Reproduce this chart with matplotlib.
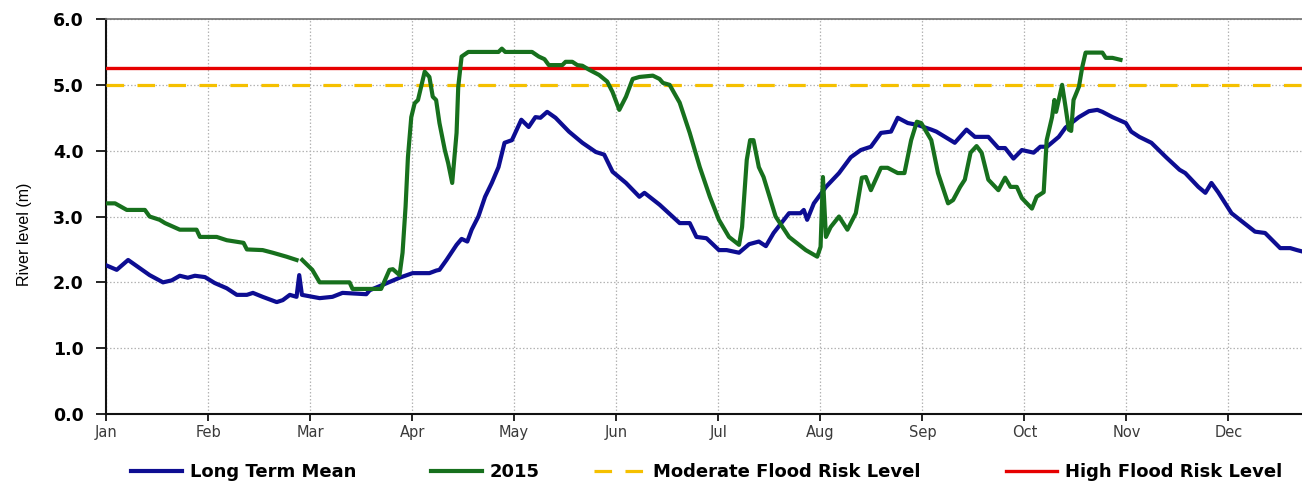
import numpy as np
from matplotlib import pyplot as plt

# day of year (0 = 1 Jan) and river level (m)
mean_days = [0, 3.2, 6.6, 13, 17, 19.6, 22, 24.4, 26.5, 29.5, 32.4, 36, 39, 42, 43.8, 46.7,
             50.9, 52.7, 54.8, 56.8, 57.6, 58.4, 63.7, 67.5, 70.5, 77.6, 78.6, 82.4, 87.5,
             91.4, 96.4, 98.5, 99.4, 101.5, 104.5, 106, 107.7, 109, 111, 113, 115, 117,
             118.8, 121, 123.8, 126, 128, 129.5, 131.5, 134, 138, 142, 146, 148.5, 151,
             155, 159, 160.5, 165, 171, 174, 176, 179, 182.7, 185, 188.7, 191.7, 194.6,
             196.7, 199, 203.6, 207, 208, 209, 211, 214.6, 218.5, 222, 225, 228, 231, 234,
             236, 239, 242, 246, 247.5, 253, 256.5, 259, 263, 266, 268, 270.5, 273, 276.5,
             278.5, 280.5, 284, 286, 290, 293, 295.5, 297, 300, 304, 305.6, 308, 311.6,
             316, 320, 321.7, 325.6, 327.7, 329.5, 331.5, 335.5, 338, 342.5, 345.5, 350,
             353, 355, 358]
mean_level = [2.26, 2.19, 2.34, 2.11, 2.0, 2.03, 2.1, 2.07, 2.1, 2.08, 1.99, 1.91, 1.81, 1.81,
              1.84, 1.78, 1.70, 1.73, 1.81, 1.78, 2.11, 1.81, 1.76, 1.78, 1.84, 1.82, 1.88,
              1.96, 2.07, 2.14, 2.14, 2.18, 2.19, 2.34, 2.57, 2.66, 2.62, 2.8, 3.0, 3.3, 3.51,
              3.75, 4.12, 4.16, 4.47, 4.36, 4.51, 4.50, 4.59, 4.5, 4.29, 4.12, 3.98, 3.94,
              3.68, 3.51, 3.3, 3.36, 3.18, 2.9, 2.9, 2.69, 2.67, 2.49, 2.49, 2.45, 2.58, 2.62,
              2.55, 2.75, 3.05, 3.05, 3.1, 2.95, 3.2, 3.45, 3.66, 3.9, 4.01, 4.06, 4.27, 4.29,
              4.5, 4.42, 4.39, 4.32, 4.29, 4.12, 4.32, 4.21, 4.21, 4.04, 4.04, 3.88, 4.01,
              3.97, 4.06, 4.06, 4.21, 4.35, 4.51, 4.6, 4.62, 4.59, 4.51, 4.42, 4.29, 4.21,
              4.12, 3.9, 3.71, 3.66, 3.45, 3.36, 3.51, 3.37, 3.05, 2.95, 2.77, 2.75, 2.52,
              2.52, 2.49, 2.45]

# 2015 series, with a short gap in the record near the end of February
y2015_days = [0, 2.7, 6.2, 11.6, 13, 16, 17.6, 22, 27, 28, 33, 36, 41, 42, 46.7, 49.7, 53.8,
              56.8, 57.5, 58.5, 59.5, 61.5, 63.7, 72.6, 73.5, 82, 84.5, 85.5, 87.5, 88.4,
              89.3, 90, 91, 92, 93, 95, 96.4, 97.4, 98.4, 99.4, 101, 102, 103.2, 104.5, 105,
              106, 108, 117, 118, 119, 127, 129, 130.7, 132, 136, 137, 139, 140.5, 142, 144,
              147, 149.4, 151, 153, 155, 157, 159, 163, 165, 166, 168, 171, 174, 177, 180,
              182.7, 185.7, 188.7, 189.6, 191, 192, 193, 194.6, 196, 199.6, 203.6, 208.6,
              212, 213, 213.7, 214.6, 216, 218.5, 221, 223.5, 225.3, 226.5, 228, 231, 233,
              236, 238, 240, 241.7, 243, 246, 248, 251, 252.5, 254.6, 256, 257.7, 259.5,
              261, 263, 266, 268, 269.6, 271.5, 273, 274.5, 276, 277.4, 279.5, 280.4, 282,
              282.7, 283.2, 284, 285, 286, 287, 287.7, 288.4, 290, 291, 292, 295.5, 297, 298,
              300, 302.4]
y2015_level = [3.2, 3.2, 3.1, 3.1, 3.0, 2.95, 2.9, 2.8, 2.8, 2.69, 2.69, 2.64, 2.6, 2.5, 2.49,
               2.45, 2.39, 2.34, np.nan, 2.34, 2.29, 2.19, 2.0, 2.0, 1.9, 1.9, 2.19, 2.2, 2.11,
               2.45, 3.15, 3.9, 4.51, 4.72, 4.77, 5.2, 5.12, 4.82, 4.77, 4.42, 4.01, 3.81,
               3.51, 4.27, 4.97, 5.43, 5.5, 5.5, 5.55, 5.5, 5.5, 5.43, 5.39, 5.3, 5.3, 5.35,
               5.35, 5.3, 5.29, 5.23, 5.15, 5.05, 4.89, 4.62, 4.82, 5.09, 5.12, 5.14, 5.09,
               5.03, 5.0, 4.73, 4.27, 3.75, 3.3, 2.95, 2.69, 2.57, 2.84, 3.86, 4.16, 4.16,
               3.75, 3.6, 3.0, 2.69, 2.49, 2.39, 2.54, 3.6, 2.69, 2.84, 3.0, 2.8, 3.05, 3.59,
               3.6, 3.4, 3.74, 3.74, 3.66, 3.66, 4.16, 4.44, 4.42, 4.16, 3.66, 3.2, 3.25, 3.45,
               3.56, 3.97, 4.07, 3.97, 3.56, 3.4, 3.59, 3.45, 3.45, 3.28, 3.2, 3.12, 3.3, 3.37,
               4.16, 4.51, 4.77, 4.59, 4.77, 5.0, 4.67, 4.32, 4.3, 4.77, 4.97, 5.27, 5.49,
               5.49, 5.49, 5.41, 5.41, 5.38]

moderate_level = 5.0
high_level = 5.25

months = ["Jan", "Feb", "Mar", "Apr", "May", "Jun", "Jul", "Aug", "Sep", "Oct", "Nov", "Dec"]

BLUE = "#0d0d92"
GREEN = "#17701d"
RED = "#e60000"
YELLOW = "#f5c000"


def main():
    fig = plt.figure(figsize=(13.02, 4.84), dpi=100)
    ax = fig.add_axes([0.0814, 0.1446, 0.9405, 0.8161])

    l_mean, = ax.plot(mean_days, mean_level, color=BLUE, lw=3.0, solid_joinstyle="round",
                      label="Long Term Mean", zorder=4)
    l_2015, = ax.plot(y2015_days, y2015_level, color=GREEN, lw=3.0, solid_joinstyle="round",
                      label="2015", zorder=5)
    l_mod = ax.axhline(moderate_level, color=YELLOW, lw=2.3, dashes=(5.5, 4.2),
                       label="Moderate Flood Risk Level", zorder=3)
    l_high = ax.axhline(high_level, color=RED, lw=2.4, label="High Flood Risk Level", zorder=3)

    ax.set_xlim(0, 365)
    ax.set_ylim(0, 6)
    ax.set_xticks(np.arange(12) * 365 / 12)
    ax.set_xticklabels(months, fontsize=10.5, color="#3a3a3a", family="DejaVu Sans")
    ax.set_yticks(np.arange(0, 7))
    ax.set_yticklabels([f"{v:.1f}" for v in range(7)], fontsize=12.5, fontweight="bold",
                       family="DejaVu Sans")
    ax.tick_params(axis="y", length=7, width=1.2, pad=9)
    ax.tick_params(axis="x", length=5, width=1.2, pad=3)
    ax.set_ylabel("River level (m)", fontsize=11.5, family="Liberation Sans")
    ax.yaxis.set_label_coords(-0.0605, 0.455)

    ax.grid(True, color="#b4b4b4", lw=0.9, linestyle=(0, (1.2, 1.6)), zorder=0)
    ax.set_axisbelow(True)
    for side in ["left", "bottom"]:
        ax.spines[side].set_linewidth(1.5)
        ax.spines[side].set_color("#111111")
    ax.spines["top"].set_color("#707070")
    ax.spines["top"].set_linewidth(1.2)
    ax.spines["right"].set_visible(False)

    # one legend box per entry so each sits where the original places it
    for handle, x0 in [(l_mean, 122), (l_2015, 422), (l_mod, 585), (l_high, 997)]:
        fig.legend(handles=[handle], loc="center left", bbox_to_anchor=(x0 / 1302, 0.025),
                   frameon=False, borderpad=0, handlelength=2.8, handletextpad=0.45,
                   prop={"family": "DejaVu Sans", "weight": "bold", "size": 13})

    fig.savefig("out.png", dpi=100)


if __name__ == "__main__":
    main()
